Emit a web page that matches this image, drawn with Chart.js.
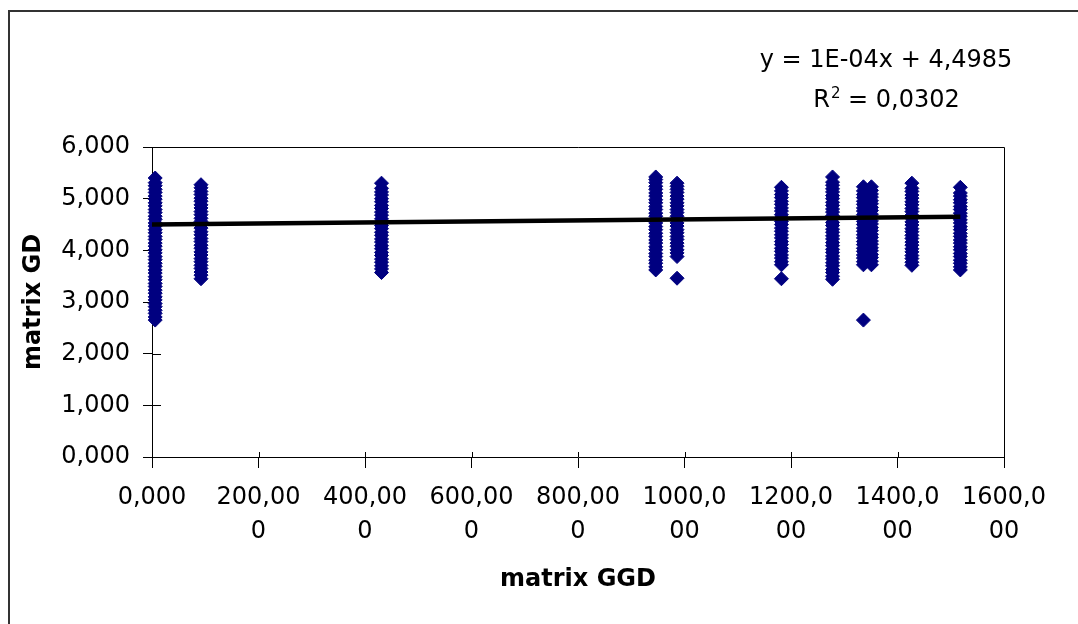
<!DOCTYPE html>
<html>
<head>
<meta charset="utf-8">
<script src="https://cdn.jsdelivr.net/npm/chart.js@4.4.1/dist/chart.umd.min.js"></script>
<style>
html,body{margin:0;padding:0;background:#fff;}
#wrap{position:relative;width:1078px;height:624px;overflow:hidden;background:#fff;}
#frame{position:absolute;left:8px;top:10px;width:2000px;height:2000px;border-left:2px solid #333;border-top:2px solid #333;}
canvas{position:absolute;left:0;top:0;}
</style>
</head>
<body>
<div id="wrap"><div id="frame"></div><canvas id="c" width="1078" height="624"></canvas></div>
<script>
// ---- data (matrix GGD on x, matrix GD on y) ----
const clusterX = [6, 92, 431, 946, 986, 1182, 1278, 1336, 1351, 1427, 1518];
const clusterA = [2.65,2.71,2.78,2.84,2.91,2.97,3.04,3.10,3.17,3.23,3.30,3.36,3.43,3.49,3.56,3.62,3.69,3.75,3.82,3.88,3.95,4.01,4.08,4.14,4.21,4.27,4.34,4.40,4.47,4.53,4.60,4.66,4.73,4.79,4.86,4.92,4.99,5.05,5.12,5.18,5.25,5.31,5.40];
const clusterB = [3.45,3.52,3.58,3.65,3.71,3.78,3.84,3.91,3.97,4.04,4.10,4.17,4.23,4.30,4.36,4.43,4.49,4.56,4.62,4.69,4.75,4.82,4.88,4.95,5.01,5.08,5.14,5.21,5.27];
const clusterC = [3.57,3.64,3.70,3.77,3.83,3.90,3.96,4.03,4.09,4.16,4.22,4.29,4.35,4.42,4.48,4.55,4.61,4.68,4.74,4.81,4.87,4.94,5.00,5.07,5.13,5.20,5.30];
const clusterD = [3.62,3.68,3.75,3.81,3.88,3.94,4.01,4.07,4.14,4.20,4.27,4.33,4.40,4.46,4.53,4.59,4.66,4.72,4.79,4.85,4.92,4.98,5.05,5.11,5.18,5.24,5.31,5.37,5.42];
const clusterE = [3.46,3.88,3.95,4.01,4.08,4.14,4.21,4.27,4.34,4.40,4.47,4.53,4.60,4.66,4.73,4.79,4.86,4.92,4.99,5.05,5.12,5.18,5.24,5.30];
const clusterF = [3.45,3.72,3.78,3.85,3.91,3.98,4.04,4.11,4.17,4.24,4.30,4.37,4.43,4.50,4.56,4.63,4.69,4.76,4.82,4.89,4.95,5.02,5.08,5.15,5.22];
const clusterG = [3.44,3.50,3.57,3.63,3.70,3.76,3.83,3.89,3.96,4.02,4.09,4.15,4.22,4.28,4.35,4.41,4.48,4.54,4.61,4.67,4.74,4.80,4.87,4.93,5.00,5.06,5.13,5.19,5.26,5.32,5.42];
const clusterH1 = [2.65,3.72,3.78,3.85,3.91,3.98,4.04,4.11,4.17,4.24,4.30,4.37,4.43,4.50,4.56,4.63,4.69,4.76,4.82,4.89,4.95,5.02,5.08,5.15,5.23];
const clusterH2 = [3.72,3.79,3.86,3.92,3.99,4.05,4.12,4.18,4.25,4.31,4.38,4.44,4.51,4.57,4.64,4.70,4.77,4.83,4.90,4.96,5.03,5.09,5.16,5.23];
const clusterI = [3.71,3.77,3.84,3.90,3.97,4.03,4.10,4.16,4.23,4.29,4.36,4.42,4.49,4.55,4.62,4.68,4.75,4.81,4.88,4.94,5.01,5.07,5.14,5.20,5.30];
const clusterJ = [3.62,3.68,3.75,3.81,3.88,3.94,4.01,4.07,4.14,4.20,4.27,4.33,4.40,4.46,4.53,4.59,4.66,4.72,4.79,4.85,4.92,4.98,5.05,5.11,5.22];
const clusterY = [clusterA, clusterB, clusterC, clusterD, clusterE, clusterF, clusterG, clusterH1, clusterH2, clusterI, clusterJ];

// linear trendline end points (y = 1E-04x + 4,4985)
const trendX = [0, 1518];
const trendY = [4.4985, 4.6503];
const eqLine1 = 'y = 1E-04x + 4,4985';
const eqR2 = '0,0302';

const xTickLabels = [['0,000'],['200,00','0'],['400,00','0'],['600,00','0'],['800,00','0'],['1000,0','00'],['1200,0','00'],['1400,0','00'],['1600,0','00']];
const yTickLabels = ['0,000','1,000','2,000','3,000','4,000','5,000','6,000'];

// ---- build datasets ----
const points = [];
clusterY.forEach((arr, i) => arr.forEach(v => points.push({x: clusterX[i], y: v})));
const trendPts = trendX.map((x, i) => ({x: x, y: trendY[i]}));

const framePlugin = {
  id: 'frame',
  beforeDatasetsDraw(chart) {
    const c = chart.ctx, a = chart.chartArea;
    const xs = chart.scales.x, ys = chart.scales.y;
    c.save();
    c.strokeStyle = '#000';
    c.lineWidth = 1;
    c.beginPath();
    c.moveTo(a.left, a.top + 0.5); c.lineTo(a.right + 0.5, a.top + 0.5); c.lineTo(a.right + 0.5, a.bottom);
    xs.ticks.forEach(t => { const p = Math.round(xs.getPixelForValue(t.value)) + 0.5; c.moveTo(p, a.bottom); c.lineTo(p, a.bottom - 5); });
    ys.ticks.forEach(t => { const p = Math.round(ys.getPixelForValue(t.value)) + 0.5; c.moveTo(a.left, p); c.lineTo(a.left + 9, p); });
    c.stroke();
    c.restore();
  },
  afterDraw(chart) {
    const c = chart.ctx;
    const big = '24px "DejaVu Sans"', small = '15px "DejaVu Sans"';
    c.save();
    c.fillStyle = '#000';
    c.textBaseline = 'middle';
    c.font = big; c.textAlign = 'center';
    c.fillText(eqLine1, 886, 61);
    c.textAlign = 'left';
    const a = 'R', b = ' = ' + eqR2, s = '2';
    const wa = c.measureText(a).width, wb = c.measureText(b).width;
    c.font = small; const ws = c.measureText(s).width;
    const x0 = 886 - (wa + ws + wb) / 2;
    c.font = big; c.fillText(a, x0, 101);
    c.font = small; c.fillText(s, x0 + wa + 1, 94);
    c.font = big; c.fillText(b, x0 + wa + ws + 1, 101);
    c.restore();
  }
};

new Chart(document.getElementById('c'), {
  type: 'scatter',
  data: {
    datasets: [
      {type: 'line', label: 'Linear trend', data: trendPts, borderColor: '#000', borderWidth: 4.5, pointRadius: 0, fill: false, order: 0, clip: false},
      {label: 'matrix GD', data: points, pointStyle: 'rectRot', pointRadius: 7, backgroundColor: '#000080', borderColor: '#000080', borderWidth: 1, order: 1, clip: false}
    ]
  },
  options: {
    responsive: false,
    animation: false,
    events: [],
    layout: {padding: {left: 0, top: 147, right: 74, bottom: 0}},
    plugins: {legend: {display: false}, tooltip: {enabled: false}},
    scales: {
      x: {
        type: 'linear', position: 'bottom', min: 0, max: 1600,
        afterFit(s) { s.height = 167; s.paddingLeft = 0; s.paddingRight = 0; },
        ticks: {stepSize: 200, autoSkip: false, maxRotation: 0, minRotation: 0, padding: 12, color: '#000',
                font: {family: 'DejaVu Sans', size: 24, lineHeight: 1.44},
                callback: (v, i) => xTickLabels[i]},
        grid: {drawOnChartArea: false, drawTicks: true, tickLength: 11, color: '#000', lineWidth: 1},
        border: {display: true, color: '#000', width: 1},
        title: {display: true, text: 'matrix GGD', color: '#000', font: {family: 'DejaVu Sans', size: 24, weight: 'bold'}, padding: {top: 0, bottom: 30}}
      },
      y: {
        type: 'linear', min: 0, max: 6,
        afterFit(s) { s.width = 152; s.paddingTop = 0; s.paddingBottom = 0; },
        ticks: {stepSize: 1, padding: 13, color: '#000', font: {family: 'DejaVu Sans', size: 24},
                callback: (v, i) => yTickLabels[i]},
        grid: {drawOnChartArea: false, drawTicks: true, tickLength: 9, color: '#000', lineWidth: 1},
        border: {display: true, color: '#000', width: 1},
        title: {display: true, text: 'matrix GD', color: '#000', font: {family: 'DejaVu Sans', size: 24, weight: 'bold'}, padding: {top: 19, bottom: 0}}
      }
    }
  },
  plugins: [framePlugin]
});
</script>
</body>
</html>
